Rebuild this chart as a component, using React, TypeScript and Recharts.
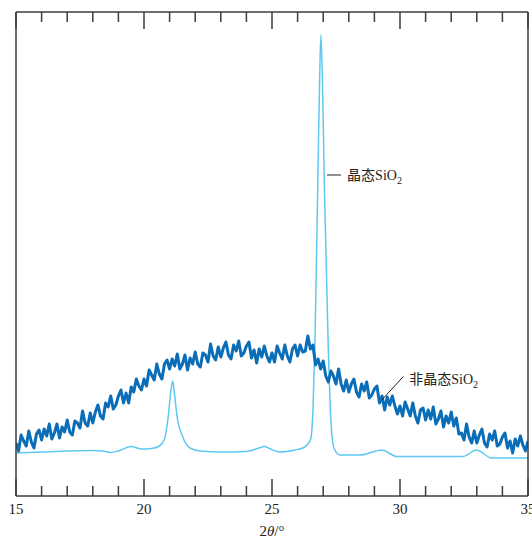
import React from "react";
import { LineChart, Line, XAxis, YAxis, ReferenceLine } from "recharts";

// amorphous SiO2: sampled every 0.1° from 15° to 35° (intensity, arbitrary units)
const amorphousStart = 15;
const amorphousStep = 0.1;
const amorphousValues = [
  53, 45, 61, 55, 50, 65, 54, 48, 62, 66,
  56, 67, 60, 72, 57, 63, 72, 58, 69, 64,
  76, 64, 61, 75, 73, 68, 85, 73, 70, 83,
  73, 84, 91, 80, 77, 93, 89, 100, 87, 91,
  100, 106, 93, 103, 93, 109, 104, 117, 110, 106,
  117, 110, 126, 121, 116, 132, 122, 117, 132, 136,
  127, 137, 130, 142, 127, 132, 141, 126, 138, 132,
  144, 132, 129, 143, 141, 134, 152, 140, 136, 149,
  139, 148, 154, 141, 137, 151, 145, 155, 140, 143,
  150, 154, 138, 146, 133, 147, 139, 150, 140, 134,
  143, 134, 150, 143, 137, 151, 140, 134, 147, 151,
  140, 151, 144, 145, 160, 147, 151, 131, 137, 127,
  135, 120, 114, 125, 120, 112, 127, 112, 105, 116,
  104, 112, 117, 104, 99, 112, 105, 114, 98, 101,
  107, 110, 93, 100, 86, 99, 91, 100, 90, 82,
  90, 80, 94, 87, 80, 93, 80, 73, 86, 88,
  76, 86, 77, 89, 72, 77, 85, 69, 80, 73,
  84, 70, 78, 62, 63, 56, 72, 59, 53, 65,
  53, 61, 67, 53, 49, 62, 56, 65, 50, 52,
  59, 63, 48, 55, 43, 57, 50, 60, 51, 45,
  55,
];

// crystalline SiO2
const crystalAngles = [
  15.0, 16.0, 17.0, 18.0, 18.4, 18.7, 19.0, 19.5, 19.9, 20.3,
  20.6, 20.8, 20.95, 21.05, 21.12, 21.2, 21.3, 21.5, 21.8, 22.2,
  23.0, 24.0, 24.5, 24.7, 24.9, 25.3, 25.9, 26.2, 26.4, 26.52,
  26.6, 26.68, 26.79, 26.86, 26.91, 26.97, 27.04, 27.19, 27.3, 27.42,
  27.66, 28.44, 29.29, 29.88, 32.46, 32.99, 33.58, 35.0,
];
const crystalValues = [
  43, 44, 45, 45.5, 45, 43.5, 45, 49.5, 47, 47.5,
  50, 57, 80, 105, 115, 100, 78, 60, 48, 45,
  44, 44.5, 48, 49.5, 47.5, 44, 46, 48, 52, 58,
  86, 156, 316, 416, 461, 416, 316, 156, 76, 48,
  41, 41, 46, 39.5, 39.5, 46, 38, 38,
];

const xTicks = [15, 16, 17, 18, 19, 20, 21, 22, 23, 24, 25, 26, 27, 28, 29, 30, 31, 32, 33, 34, 35];

const amorphousData = amorphousValues.map((v, i) => ({
  angle: Math.round((amorphousStart + i * amorphousStep) * 10) / 10,
  value: v,
}));
const crystalData = crystalAngles.map((a, i) => ({ angle: a, value: crystalValues[i] }));

const frameColor = "#3c3c3c";
const serif = "'Liberation Serif', 'DejaVu Serif', serif, 'Noto Sans CJK SC'";
const frameLine = { stroke: frameColor, strokeWidth: 1.5 };

function BottomTick(props: any) {
  const { x, y, payload } = props;
  const major = payload.value % 5 === 0;
  return (
    <g>
      <line x1={x} x2={x} y1={y} y2={y - (major ? 17 : 10)} stroke={frameColor} strokeWidth={1.5} />
      {major && (
        <text x={x} y={y + 18} textAnchor="middle" style={{ fontFamily: serif, fontSize: 15 }} fill="#222">
          {payload.value}
        </text>
      )}
    </g>
  );
}

function TopTick(props: any) {
  const { x, y, payload } = props;
  const major = payload.value % 5 === 0;
  return <line x1={x} x2={x} y1={y} y2={y + (major ? 17 : 10)} stroke={frameColor} strokeWidth={1.5} />;
}

function AxisTitle(props: any) {
  const { viewBox } = props;
  return (
    <text
      x={viewBox.x + viewBox.width / 2}
      y={viewBox.y + 40}
      textAnchor="middle"
      style={{ fontFamily: serif, fontSize: 15 }}
      fill="#222"
    >
      2<tspan fontStyle="italic">θ</tspan>/°
    </text>
  );
}

// label for a leader line: name followed by "SiO2" with subscript
function leaderLabel(name: string, dy: number) {
  return (props: any) => {
    const { viewBox } = props;
    const x = viewBox.x + viewBox.width + 6;
    const y = viewBox.y + dy;
    return (
      <text x={x} y={y} style={{ fontFamily: serif, fontSize: 14 }} fill="#222">
        {name}SiO
        <tspan fontSize={10} dy={4}>2</tspan>
      </text>
    );
  };
}

export default function App() {
  return (
    <div style={{ position: "absolute", left: 0, top: 0 }}>
      <LineChart width={532} height={539} margin={{ top: 11, right: 3, bottom: 0, left: 15 }}>
        <XAxis
          xAxisId="bottom"
          dataKey="angle"
          type="number"
          domain={[15, 35]}
          ticks={xTicks}
          interval={0}
          height={43}
          tickSize={0}
          tickMargin={0}
          tickLine={false}
          axisLine={frameLine}
          tick={<BottomTick />}
          label={<AxisTitle />}
          allowDataOverflow
        />
        <XAxis
          xAxisId="top"
          orientation="top"
          dataKey="angle"
          type="number"
          domain={[15, 35]}
          ticks={xTicks}
          interval={0}
          height={1}
          tickSize={0}
          tickMargin={0}
          tickLine={false}
          axisLine={frameLine}
          tick={<TopTick />}
          allowDataOverflow
        />
        <YAxis
          yAxisId="left"
          type="number"
          domain={[0, 484]}
          width={1}
          tick={false}
          tickLine={false}
          axisLine={frameLine}
        />
        <YAxis
          yAxisId="right"
          orientation="right"
          type="number"
          domain={[0, 484]}
          width={1}
          tick={false}
          tickLine={false}
          axisLine={frameLine}
        />
        <Line
          xAxisId="bottom"
          yAxisId="left"
          data={crystalData}
          dataKey="value"
          type="monotone"
          stroke="#5ec8f2"
          strokeWidth={1.5}
          dot={false}
          isAnimationActive={false}
        />
        <Line
          xAxisId="bottom"
          yAxisId="left"
          data={amorphousData}
          dataKey="value"
          type="linear"
          stroke="#0a6db7"
          strokeWidth={3}
          strokeLinejoin="round"
          dot={false}
          isAnimationActive={false}
        />
        <ReferenceLine
          xAxisId="bottom"
          yAxisId="left"
          segment={[{ x: 27.15, y: 321 }, { x: 27.7, y: 321 }]}
          stroke="#222"
          strokeWidth={1}
          label={leaderLabel("晶态", 5)}
        />
        <ReferenceLine
          xAxisId="bottom"
          yAxisId="left"
          segment={[{ x: 29.29, y: 96 }, { x: 30.13, y: 119.5 }]}
          stroke="#222"
          strokeWidth={1}
          label={leaderLabel("非晶态", 7)}
        />
      </LineChart>
    </div>
  );
}
